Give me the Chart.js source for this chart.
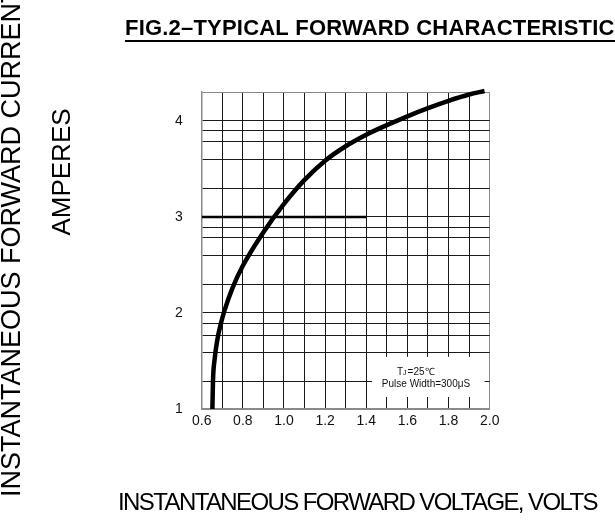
<!DOCTYPE html>
<html>
<head>
<meta charset="utf-8">
<script src="https://cdn.jsdelivr.net/npm/chart.js@4/dist/chart.umd.min.js"></script>
<style>
  html, body { margin: 0; padding: 0; background: #fff; }
  #wrap { width: 615px; height: 525px; }
</style>
</head>
<body>
<div id="wrap"><canvas id="fig2" width="615" height="525"></canvas></div>
<script>
// curve (volts, amperes-axis units)
var voltage = [0.652, 0.655, 0.663, 0.676, 0.692, 0.710, 0.75, 0.80, 0.90, 1.00, 1.10, 1.20, 1.30, 1.40, 1.50, 1.60, 1.70, 1.80, 1.90, 1.975];
var current = [1.00, 1.30, 1.52, 1.72, 1.88, 2.02, 2.261, 2.491, 2.841, 3.136, 3.386, 3.586, 3.736, 3.856, 3.956, 4.048, 4.133, 4.209, 4.275, 4.312];

// horizontal grid rows (uneven, as on the sheet) and labelled rows
var yGrid = [1, 1.282, 1.585, 1.762, 1.887, 2, 2.294, 2.597, 2.785, 2.895, 3, 3.296, 3.60, 3.787, 3.90, 4, 4.301];
var yLabels = [1, 2, 3, 4];
var xLabels = ['0.6', '0.8', '1.0', '1.2', '1.4', '1.6', '1.8', '2.0'];

// the heavy row at 3 A that stops at 1.4 V
var heavyX = [0.6, 1.4];
var heavyY = [3, 3];

var curvePts = voltage.map(function (v, i) { return { x: v, y: current[i] }; });
var heavyPts = heavyX.map(function (v, i) { return { x: v, y: heavyY[i] }; });

var textPlugin = {
  id: 'sheetText',
  beforeDatasetsDraw: function (chart) {
    var ctx = chart.ctx, xs = chart.scales.x, ys = chart.scales.y;
    // white note box over the grid
    var l = xs.getPixelForValue(1.428), r = xs.getPixelForValue(1.975);
    var t = ys.getPixelForValue(1.543), b = ys.getPixelForValue(1.125);
    ctx.save();
    ctx.fillStyle = '#fff';
    ctx.fillRect(l, t, r - l, b - t);
    ctx.fillStyle = '#111';
    ctx.font = '10px "Liberation Sans", Arial, sans-serif';
    ctx.textBaseline = 'middle';
    ctx.textAlign = 'left';
    var tx = 397, ty = 372;
    ctx.fillText('T', tx, ty);
    var w = ctx.measureText('T').width;
    ctx.font = '7px "Liberation Sans", Arial, sans-serif';
    ctx.fillText('J', tx + w, ty + 1);
    var w2 = ctx.measureText('J').width;
    ctx.font = '10px "Liberation Sans", Arial, sans-serif';
    ctx.fillText('=25\u2103', tx + w + w2 + 1, ty);
    ctx.textAlign = 'center';
    ctx.fillText('Pulse Width=300\u03bcS', 426, 384);
    ctx.restore();
  },
  afterDraw: function (chart) {
    var ctx = chart.ctx;
    ctx.save();
    ctx.fillStyle = '#000';
    // title, bold and underlined
    ctx.font = 'bold 22px "Liberation Sans", Arial, sans-serif';
    ctx.textAlign = 'left';
    ctx.textBaseline = 'alphabetic';
    ctx.letterSpacing = '0.2px';
    ctx.fillText('FIG.2\u2013TYPICAL FORWARD CHARACTERISTICS', 125, 35);
    ctx.fillRect(125, 40, 500, 2);

    // x axis title
    ctx.font = '24px "Liberation Sans", Arial, sans-serif';
    ctx.letterSpacing = '-1.6px';
    ctx.textAlign = 'left';
    ctx.fillText('INSTANTANEOUS FORWARD VOLTAGE, VOLTS', 118, 510);

    // y axis title, two rotated lines
    ctx.letterSpacing = '0px';
    ctx.font = '27px "Liberation Sans", Arial, sans-serif';
    ctx.save();
    ctx.translate(20, 497);
    ctx.rotate(-Math.PI / 2);
    ctx.textAlign = 'left';
    ctx.fillText('INSTANTANEOUS FORWARD CURRENT', 0, 0);
    ctx.restore();
    ctx.font = '26px "Liberation Sans", Arial, sans-serif';
    ctx.save();
    ctx.translate(70, 172);
    ctx.rotate(-Math.PI / 2);
    ctx.textAlign = 'center';
    ctx.fillText('AMPERES', 0, 0);
    ctx.restore();
    ctx.restore();
  }
};

function edgeColor(ctx, lo, hi) {
  var v = ctx.tick ? ctx.tick.value : null;
  if (v !== null && (Math.abs(v - lo) < 1e-6 || Math.abs(v - hi) < 1e-6)) return '#8a8a8a';
  return '#1a1a1a';
}

new Chart(document.getElementById('fig2'), {
  type: 'line',
  data: {
    datasets: [{
      data: curvePts,
      borderColor: '#000',
      borderWidth: 4.5,
      pointRadius: 0,
      cubicInterpolationMode: 'monotone',
      fill: false,
      clip: false
    }, {
      data: heavyPts,
      borderColor: '#000',
      borderWidth: 2.5,
      pointRadius: 0,
      fill: false
    }]
  },
  options: {
    responsive: false,
    animation: false,
    layout: { padding: { left: 0, top: 92, right: 125.3, bottom: 0 } },
    plugins: {
      legend: { display: false },
      tooltip: { enabled: false }
    },
    scales: {
      x: {
        type: 'linear',
        min: 0.6,
        max: 2.0,
        afterFit: function (s) { s.height = 116; },
        afterBuildTicks: function (s) {
          var t = [];
          for (var i = 0; i <= 14; i++) t.push({ value: Math.round((0.6 + i * 0.1) * 10) / 10 });
          s.ticks = t;
        },
        border: { display: true, color: '#8a8a8a', width: 1.5 },
        grid: {
          drawTicks: false,
          lineWidth: 1,
          color: function (c) { return edgeColor(c, 0.6, 2.0); }
        },
        ticks: {
          autoSkip: false,
          maxRotation: 0,
          padding: 4,
          color: '#111',
          font: { family: '"Liberation Sans", Arial, sans-serif', size: 14 },
          callback: function (v) {
            var s = (Math.round(v * 10) / 10).toFixed(1);
            return xLabels.indexOf(s) >= 0 ? s : '';
          }
        }
      },
      y: {
        type: 'linear',
        min: 1,
        max: 4.301,
        afterFit: function (s) { s.width = 201.7; },
        afterBuildTicks: function (s) {
          s.ticks = yGrid.map(function (v) { return { value: v }; });
        },
        border: { display: true, color: '#8a8a8a', width: 1.5 },
        grid: {
          drawTicks: false,
          lineWidth: 1,
          color: function (c) { return edgeColor(c, 1, 4.301); }
        },
        ticks: {
          autoSkip: false,
          padding: 19,
          color: '#111',
          font: { family: '"Liberation Sans", Arial, sans-serif', size: 14 },
          callback: function (v) {
            return yLabels.indexOf(v) >= 0 ? String(v) : '';
          }
        }
      }
    }
  },
  plugins: [textPlugin]
});
</script>
</body>
</html>
